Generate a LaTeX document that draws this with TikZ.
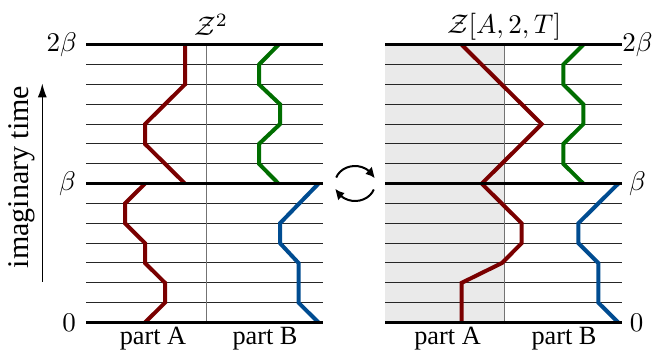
\RequirePackage{fix-cm}
\documentclass[tikz,border=0pt]{standalone}
\usepackage{graphicx}
\usepackage[no-math]{fontspec}
\newfontfamily\timesf{Liberation Serif}
\usetikzlibrary{arrows.meta,bending}
\definecolor{wred}{RGB}{122,0,0}
\definecolor{wgreen}{RGB}{0,110,0}
\definecolor{wblue}{RGB}{0,76,145}
\definecolor{shadegray}{RGB}{234,234,234}
\newcommand{\mthbig}[1]{\scalebox{2.7}{$#1$}}
\begin{document}
\begin{tikzpicture}[x=1pt,y=1pt,
  thinline/.style={line width=1pt, black!85},
  thickline/.style={line width=3pt, black},
  divider/.style={line width=0.9pt, black!55},
  wl/.style={line width=4pt, line join=miter},
  lab/.style={inner sep=0pt, font=\fontsize{10}{12}\selectfont},
  txt/.style={inner sep=0pt, font=\fontsize{26.3}{30}\selectfont\timesf},
  circarrow/.style={line width=2pt, -{Latex[length=10pt,width=10pt,bend]}},
]
\useasboundingbox (0,0) rectangle (668,349);
\begin{scope}[shift={(0,26.5)}, y=19.84pt]
  % shading of part A in the right panel
  \fill[shadegray] (385,0) rectangle (504.5,14);
  % thin time slices
  \foreach \k in {1,2,3,4,5,6,8,9,10,11,12,13} {
    \draw[thinline] (86,\k) -- (323,\k);
    \draw[thinline] (385,\k) -- (622,\k);
  }
  % dividers between part A and part B
  \draw[divider] (206.5,0) -- (206.5,14);
  \draw[divider] (504.5,0) -- (504.5,14);
  % left panel world lines
  \draw[wl, wred] (185,14) -- (185,12) -- (145,10) -- (145,9) -- (185,7);
  \draw[wl, wred] (145,7) -- (125,6) -- (125,5) -- (145,4) -- (145,3) -- (165,2) -- (165,1) -- (145,0);
  \draw[wl, wgreen] (278.5,14) -- (259,13) -- (259,12) -- (280,11) -- (280,10) -- (259,9) -- (259,8) -- (278.5,7);
  \draw[wl, wblue] (318.5,7) -- (280,5) -- (280,4) -- (298.5,3) -- (298.5,1) -- (318.5,0);
  % right panel world lines
  \draw[wl, wred] (461.7,0) -- (461.7,2) -- (502,3) -- (521.7,4) -- (521.7,5) -- (481.7,7) -- (541.7,10) -- (461.7,14);
  \draw[wl, wgreen] (583.3,14) -- (563.3,13) -- (563.3,12) -- (583.3,11) -- (583.3,10) -- (563.3,9) -- (563.3,8) -- (583.3,7);
  \draw[wl, wblue] (618.3,7) -- (578.3,5) -- (578.3,4) -- (598.3,3) -- (598.3,1) -- (618.3,0);
  % thick boundary slices
  \foreach \k in {0,7,14} {
    \draw[thickline] (86,\k) -- (323,\k);
    \draw[thickline] (385,\k) -- (622,\k);
  }
  % axis labels
  \node[lab, anchor=east] (l2b) at (77,14) {\mthbig{2\beta}};
  \node[lab, anchor=east] (lb) at (76,7) {\mthbig{\beta}};
  \node[lab, anchor=east] (l0) at (76,0) {\mthbig{0}};
  \node[lab] (r2b) at (637.5,14) {\mthbig{2\beta}};
  \node[lab] (rb) at (637.5,7) {\mthbig{\beta}};
  \node[lab] (r0) at (636.5,0) {\mthbig{0}};
\end{scope}
% titles
\node[lab, anchor=base] (tl) at (211,313) {\mthbig{\mathcal{Z}^2}};
\node[lab, anchor=base] (tr) at (504,316) {\mthbig{\mathcal{Z}[A,2,T]}};
% part labels
\node[txt, anchor=base] (pa1) at (153,5) {part A};
\node[txt, anchor=base] (pb1) at (265,5) {part B};
\node[txt, anchor=base] (pa2) at (447.5,5) {part A};
\node[txt, anchor=base] (pb2) at (564,5) {part B};
% imaginary time axis
\node[inner sep=0pt, rotate=90, font=\fontsize{30}{34}\selectfont\timesf] (it) at (22,172) {imaginary time};
\coordinate (ta) at (42.3,67.3);
\coordinate (tb) at (42.3,265.7);
\draw[line width=1.5pt, -{Latex[length=14pt,width=9pt]}] (ta) -- (tb);
% swap arrows
\coordinate (cc) at (355,165.5);
\draw[circarrow] (cc) ++(160:20 and 17.5) arc[start angle=160, end angle=16, x radius=20, y radius=17.5];
\draw[circarrow] (cc) ++(-20:20 and 17.5) arc[start angle=-20, end angle=-164, x radius=20, y radius=17.5];
\end{tikzpicture}
\end{document}
